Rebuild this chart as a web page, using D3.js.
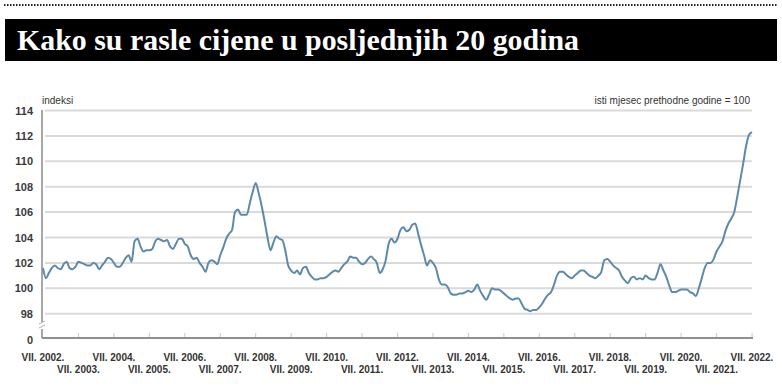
<!DOCTYPE html>
<html>
<head>
<meta charset="utf-8">
<script src="https://cdn.jsdelivr.net/npm/d3@7"></script>
<style>
  body { margin: 0; background: #fff; }
  svg { display: block; }
</style>
</head>
<body>
<div id="chart-area"></div>
<script>
// indeks potrošačkih cijena, mjesečno od VII. 2002. do VII. 2022. (isti mjesec prethodne godine = 100)
var indeks = [
    101.6, 100.8, 101.2, 101.6, 101.8, 101.6, 101.5, 101.9, 102.1, 101.6, 101.5, 101.7, // VII 2002 - VI 2003
    102.1, 102.0, 101.9, 101.8, 101.8, 102.0, 101.9, 101.5, 101.8, 102.1, 102.4, 102.3,
    102.0, 101.7, 101.7, 102.0, 102.4, 102.6, 102.1, 103.7, 103.9, 103.3, 102.9, 103.0,
    103.0, 103.1, 103.7, 103.9, 103.8, 103.7, 103.8, 103.3, 103.1, 103.5, 103.9, 103.9,
    103.5, 103.3, 102.6, 102.3, 102.4, 102.0, 101.7, 101.3, 102.0, 102.2, 102.1, 101.9,
    102.6, 103.2, 103.9, 104.3, 104.6, 106.0, 106.2, 105.8, 105.8, 105.8, 106.7, 107.6, // VII 2007
    108.3, 107.5, 106.5, 105.3, 104.0, 103.0, 103.6, 104.1, 103.9, 103.8, 103.0, 101.8,
    101.4, 101.2, 101.4, 101.1, 101.6, 101.7, 101.2, 100.9, 100.7, 100.7, 100.8, 100.8,
    100.9, 101.1, 101.3, 101.4, 101.3, 101.6, 101.9, 102.1, 102.5, 102.4, 102.4, 102.1,
    101.9, 102.0, 102.3, 102.5, 102.3, 102.0, 101.2, 101.5, 102.2, 103.5, 103.9, 103.6,
    103.9, 104.6, 104.8, 104.5, 104.6, 105.0, 105.1, 104.3, 103.4, 102.6, 101.8, 102.2, // VII 2012
    102.0, 101.6, 100.7, 100.3, 100.3, 100.1, 99.6, 99.5, 99.5, 99.6, 99.6, 99.7,
    99.8, 99.7, 99.9, 100.3, 99.8, 99.4, 99.1, 99.5, 100.0, 99.9, 99.9, 99.8,
    99.6, 99.4, 99.2, 99.1, 99.2, 99.2, 98.8, 98.4, 98.3, 98.2, 98.3, 98.3,
    98.5, 98.8, 99.2, 99.5, 99.7, 100.3, 101.0, 101.3, 101.3, 101.1, 100.9, 100.8,
    101.0, 101.2, 101.4, 101.4, 101.2, 101.0, 100.9, 100.8, 101.0, 101.3, 102.2, 102.3, // VII 2017
    102.1, 101.8, 101.6, 101.4, 100.9, 100.6, 100.4, 100.8, 100.9, 100.7, 100.8, 100.7,
    101.0, 100.8, 100.7, 100.7, 101.2, 101.9, 101.4, 100.9, 100.2, 99.7, 99.7, 99.8,
    99.9, 99.9, 99.9, 99.7, 99.6, 99.4, 100.0, 100.8, 101.6, 102.0, 102.0, 102.3,
    102.9, 103.3, 103.7, 104.5, 105.1, 105.5, 106.0, 107.2, 108.5, 109.8, 111.2, 112.1,
    112.3 // VII 2022
];

var oznake = ["VII. 2002.", "VII. 2003.", "VII. 2004.", "VII. 2005.", "VII. 2006.", "VII. 2007.",
    "VII. 2008.", "VII. 2009.", "VII. 2010.", "VII. 2011.", "VII. 2012.", "VII. 2013.",
    "VII. 2014.", "VII. 2015.", "VII. 2016.", "VII. 2017.", "VII. 2018.", "VII. 2019.",
    "VII. 2020.", "VII. 2021.", "VII. 2022."];

var yTicks = [98, 100, 102, 104, 106, 108, 110, 112, 114];

var naslov = "Kako su rasle cijene u posljednjih 20 godina";

var W = 782, H = 389;
var svg = d3.select("#chart-area").append("svg")
    .attr("width", W)
    .attr("height", H);

// dotted rule + title bar
svg.append("line")
    .attr("x1", 4).attr("x2", 778)
    .attr("y1", 5).attr("y2", 5)
    .attr("stroke", "#222")
    .attr("stroke-width", 2)
    .attr("stroke-dasharray", "1.5,1.5");

svg.append("rect")
    .attr("x", 5).attr("y", 19)
    .attr("width", 772).attr("height", 42)
    .attr("fill", "#000");

svg.append("text")
    .attr("x", 17).attr("y", 50)
    .attr("fill", "#fff")
    .style("font-family", "'Liberation Serif', 'DejaVu Serif', serif")
    .style("font-weight", "bold")
    .style("font-size", "29px")
    .attr("textLength", 562)
    .attr("lengthAdjust", "spacingAndGlyphs")
    .text(naslov);

// scales
var x = d3.scaleLinear()
    .domain([0, indeks.length - 1])
    .range([43, 752]);

var y = d3.scaleLinear()
    .domain([98, 114])
    .range([313.7, 110.5]);

var axisY = 338;
var font = "'Liberation Sans', Arial, sans-serif";

// grid
svg.append("g")
    .selectAll("line")
    .data(yTicks)
    .enter().append("line")
    .attr("x1", 45).attr("x2", 752)
    .attr("y1", d => y(d)).attr("y2", d => y(d))
    .attr("stroke", "#dadada")
    .attr("stroke-width", 2);

// y axis labels
var yAxis = d3.axisLeft(y)
    .tickValues(yTicks)
    .tickSize(0)
    .tickPadding(0)
    .tickFormat(d3.format("d"));

var yg = svg.append("g")
    .attr("transform", "translate(33,0)")
    .call(yAxis);
yg.select(".domain").remove();
yg.selectAll("text")
    .attr("fill", "#3a3a3a")
    .style("font-family", font)
    .style("font-weight", "bold")
    .style("font-size", "11px");

svg.append("text")
    .attr("x", 33).attr("y", axisY + 2)
    .attr("dy", "0.32em")
    .attr("text-anchor", "end")
    .attr("fill", "#3a3a3a")
    .style("font-family", font)
    .style("font-weight", "bold")
    .style("font-size", "11px")
    .text("0");

// vertical axis with break
svg.append("line")
    .attr("x1", 42).attr("x2", 42)
    .attr("y1", 110).attr("y2", 322)
    .attr("stroke", "#8a8a8a")
    .attr("stroke-width", 1.5);
svg.append("line")
    .attr("x1", 42).attr("x2", 42)
    .attr("y1", 329).attr("y2", axisY)
    .attr("stroke", "#8a8a8a")
    .attr("stroke-width", 1.5);
[322, 326].forEach(function (b) {
    svg.append("line")
        .attr("x1", 39).attr("x2", 45)
        .attr("y1", b + 2).attr("y2", b - 1)
        .attr("stroke", "#b0b0b0")
        .attr("stroke-width", 1);
});

// x axis
var xAxis = d3.axisBottom(x)
    .tickValues(d3.range(oznake.length).map(k => k * 12))
    .tickSize(0)
    .tickFormat("");

var xg = svg.append("g")
    .attr("transform", `translate(0, ${axisY})`)
    .call(xAxis);
xg.select(".domain").remove();

svg.append("line")
    .attr("x1", 42).attr("x2", 753)
    .attr("y1", axisY).attr("y2", axisY)
    .attr("stroke", "#8f8f8f")
    .attr("stroke-width", 2);

svg.append("g")
    .selectAll("line")
    .data(d3.range(1, oznake.length))
    .enter().append("line")
    .attr("x1", k => x(k * 12)).attr("x2", k => x(k * 12))
    .attr("y1", axisY - 5).attr("y2", axisY - 1)
    .attr("stroke", "#c8c8c8")
    .attr("stroke-width", 1);

svg.append("g")
    .selectAll("text")
    .data(oznake)
    .enter().append("text")
    .attr("x", (d, k) => x(k * 12))
    .attr("y", (d, k) => k % 2 === 0 ? 361 : 373)
    .attr("text-anchor", "middle")
    .attr("fill", "#333")
    .style("font-family", font)
    .style("font-weight", "bold")
    .style("font-size", "10px")
    .text(d => d);

// notes
svg.append("text")
    .attr("x", 42).attr("y", 104)
    .attr("fill", "#333")
    .style("font-family", font)
    .style("font-size", "10px")
    .text("indeksi");

svg.append("text")
    .attr("x", 750).attr("y", 104)
    .attr("text-anchor", "end")
    .attr("fill", "#333")
    .style("font-family", font)
    .style("font-size", "10px")
    .text("isti mjesec prethodne godine = 100");

// line
var line = d3.line()
    .x((d, i) => x(i))
    .y(d => y(d))
    .curve(d3.curveMonotoneX);

svg.append("path")
    .datum(indeks)
    .attr("fill", "none")
    .attr("stroke", "#5d89ab")
    .attr("stroke-width", 2)
    .attr("stroke-linejoin", "round")
    .attr("d", line);
</script>
</body>
</html>
